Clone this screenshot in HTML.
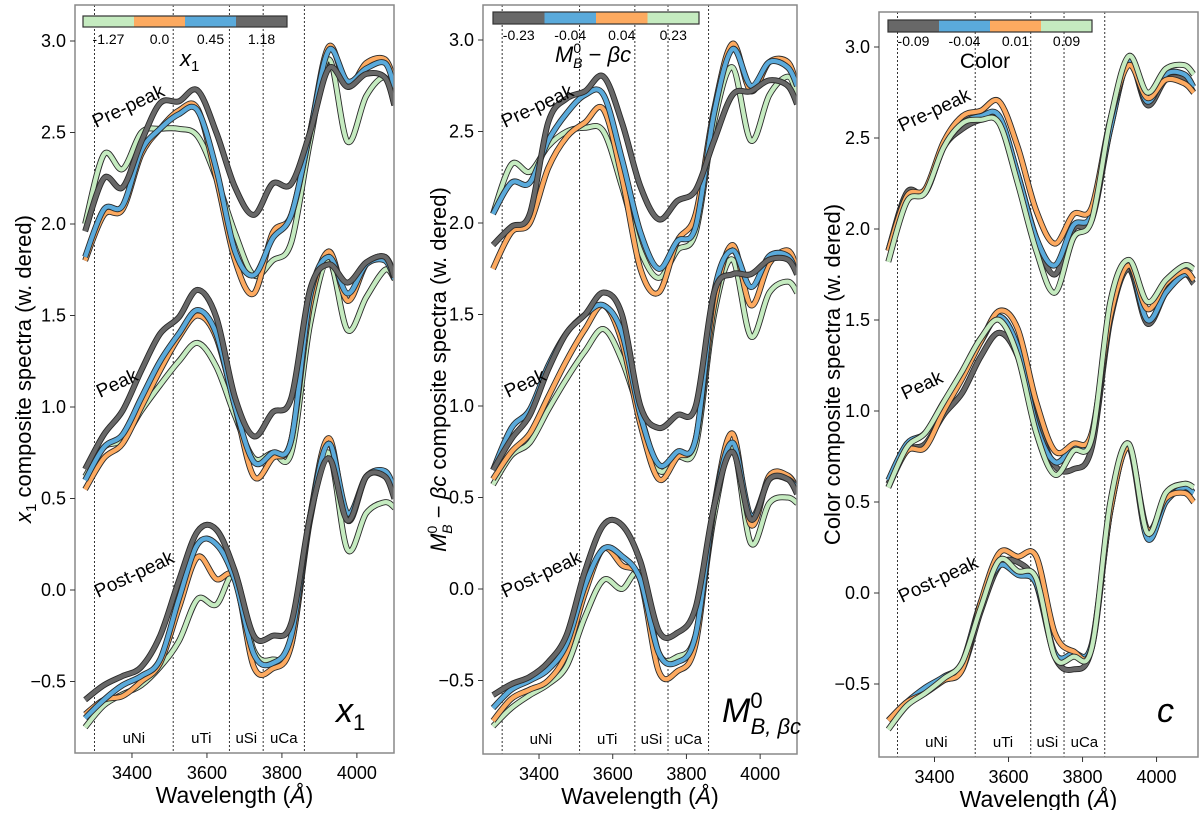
<!DOCTYPE html>
<html><head><meta charset="utf-8"><style>
body{margin:0;background:#fff;}
svg text{font-family:"Liberation Sans","DejaVu Sans",sans-serif;fill:#000;}
</style></head><body>
<svg id="fig" width="1200" height="810" viewBox="0 0 1200 810" xmlns="http://www.w3.org/2000/svg"></svg>
<script>
const wave=[3275,3325,3375,3425,3475,3525,3575,3625,3675,3725,3775,3825,3875,3925,3975,4025,4075,4100];
const xTicks=[3400,3600,3800,4000];
const yTicks=[-0.5,0.0,0.5,1.0,1.5,2.0,2.5,3.0];
const yTickLabels=["\u22120.5","0.0","0.5","1.0","1.5","2.0","2.5","3.0"];
const regionLines=[3300,3510,3660,3750,3860];
const regionNames=["uNi","uTi","uSi","uCa"];
const regionCenters=[3405,3585,3705,3805];
const epochNames=["Pre-peak","Peak","Post-peak"];
// panel 1: x1 (series order: green, orange, blue, grey)
const p1Pre=[[2.0,2.38,2.3,2.5,2.52,2.52,2.48,2.25,1.95,1.72,1.8,1.9,2.45,2.9,2.45,2.7,2.8,2.65],[1.8,2.05,2.08,2.38,2.52,2.62,2.63,2.25,1.8,1.62,1.95,2.05,2.5,2.97,2.75,2.88,2.9,2.78],[1.82,2.08,2.1,2.4,2.52,2.6,2.62,2.3,1.85,1.72,1.92,2.05,2.5,2.95,2.78,2.85,2.88,2.75],[1.96,2.25,2.2,2.45,2.66,2.67,2.73,2.5,2.2,2.05,2.22,2.22,2.5,2.85,2.75,2.82,2.8,2.65]];
const p1Peak=[[0.62,0.78,0.82,0.98,1.12,1.25,1.35,1.22,0.95,0.72,0.75,0.75,1.45,1.8,1.42,1.6,1.75,1.7],[0.55,0.72,0.8,1.0,1.2,1.38,1.5,1.38,1.0,0.62,0.72,0.82,1.55,1.85,1.58,1.78,1.82,1.72],[0.6,0.78,0.85,1.05,1.25,1.4,1.53,1.4,1.0,0.7,0.75,0.82,1.6,1.82,1.62,1.78,1.8,1.7],[0.66,0.85,0.98,1.2,1.4,1.49,1.64,1.49,1.05,0.84,0.97,1.05,1.64,1.78,1.68,1.79,1.82,1.71]];
const p1Post=[[-0.75,-0.63,-0.57,-0.52,-0.42,-0.28,-0.05,-0.08,0.08,-0.33,-0.38,-0.3,0.38,0.75,0.22,0.42,0.48,0.45],[-0.68,-0.6,-0.58,-0.5,-0.4,-0.1,0.18,0.06,0.06,-0.42,-0.43,-0.3,0.4,0.83,0.38,0.62,0.62,0.52],[-0.7,-0.6,-0.52,-0.47,-0.38,-0.05,0.25,0.25,0.05,-0.35,-0.4,-0.25,0.4,0.8,0.42,0.62,0.65,0.55],[-0.6,-0.52,-0.47,-0.42,-0.25,0.05,0.32,0.33,0.1,-0.25,-0.25,-0.18,0.4,0.72,0.38,0.62,0.62,0.5]];
// panel 2: M_B^0 - beta c (order: green, orange, blue, grey)
const p2Pre=[[2.05,2.32,2.28,2.42,2.5,2.52,2.5,2.2,1.85,1.7,1.85,1.95,2.55,2.85,2.45,2.7,2.8,2.7],[1.75,1.95,2.0,2.3,2.47,2.55,2.62,2.25,1.75,1.62,1.9,2.05,2.62,2.98,2.72,2.88,2.88,2.75],[2.05,2.22,2.22,2.45,2.6,2.7,2.7,2.35,1.95,1.75,1.9,1.98,2.6,2.95,2.75,2.88,2.85,2.75],[1.88,1.98,2.05,2.55,2.68,2.72,2.8,2.55,2.2,2.02,2.12,2.18,2.45,2.7,2.72,2.78,2.75,2.65]];
const p2Peak=[[0.57,0.73,0.8,0.98,1.15,1.3,1.42,1.25,0.95,0.65,0.72,0.78,1.5,1.8,1.38,1.62,1.68,1.62],[0.6,0.75,0.85,1.05,1.25,1.42,1.55,1.35,0.9,0.6,0.72,0.82,1.55,1.88,1.55,1.78,1.85,1.75],[0.65,0.88,0.98,1.22,1.4,1.5,1.55,1.4,0.95,0.68,0.75,0.82,1.62,1.85,1.65,1.82,1.82,1.72],[0.65,0.82,0.95,1.2,1.4,1.5,1.62,1.5,1.0,0.88,0.95,1.0,1.62,1.72,1.72,1.8,1.8,1.72]];
const p2Post=[[-0.75,-0.65,-0.58,-0.52,-0.42,-0.15,0.05,0.0,0.08,-0.35,-0.37,-0.25,0.4,0.78,0.25,0.47,0.5,0.47],[-0.72,-0.6,-0.55,-0.5,-0.35,-0.02,0.22,0.13,0.05,-0.45,-0.45,-0.3,0.45,0.85,0.35,0.62,0.62,0.55],[-0.65,-0.55,-0.5,-0.44,-0.3,0.02,0.22,0.18,0.05,-0.35,-0.4,-0.25,0.45,0.8,0.4,0.6,0.6,0.55],[-0.58,-0.52,-0.48,-0.4,-0.25,0.1,0.35,0.35,0.15,-0.23,-0.24,-0.1,0.45,0.75,0.38,0.6,0.6,0.52]];
// panel 3: colour (order: grey, blue, orange, green)
const p3Pre=[[1.88,2.2,2.2,2.45,2.55,2.6,2.6,2.3,1.95,1.75,2.0,2.05,2.55,2.92,2.68,2.82,2.82,2.75],[1.88,2.18,2.2,2.45,2.58,2.62,2.62,2.3,1.95,1.8,2.02,2.08,2.55,2.92,2.7,2.85,2.85,2.78],[1.88,2.18,2.22,2.48,2.62,2.65,2.7,2.45,2.1,1.92,2.08,2.12,2.6,2.9,2.72,2.82,2.8,2.75],[1.82,2.15,2.2,2.45,2.58,2.6,2.58,2.25,1.88,1.65,1.95,2.05,2.6,2.95,2.75,2.88,2.9,2.85]];
const p3Peak=[[0.6,0.78,0.82,0.98,1.1,1.3,1.43,1.3,0.95,0.7,0.68,0.8,1.5,1.78,1.48,1.65,1.75,1.7],[0.62,0.82,0.88,1.05,1.2,1.38,1.52,1.35,0.92,0.72,0.8,0.85,1.55,1.8,1.5,1.65,1.75,1.72],[0.58,0.78,0.8,1.0,1.18,1.38,1.55,1.45,1.05,0.78,0.82,0.88,1.52,1.8,1.56,1.7,1.77,1.72],[0.58,0.8,0.88,1.05,1.22,1.4,1.5,1.3,0.88,0.65,0.78,0.85,1.6,1.83,1.6,1.72,1.8,1.78]];
const p3Post=[[-0.7,-0.6,-0.53,-0.48,-0.42,-0.1,0.15,0.17,0.05,-0.35,-0.42,-0.3,0.45,0.8,0.33,0.52,0.58,0.55],[-0.7,-0.6,-0.52,-0.46,-0.38,-0.05,0.15,0.1,0.05,-0.33,-0.33,-0.28,0.45,0.8,0.3,0.5,0.58,0.55],[-0.7,-0.6,-0.55,-0.48,-0.42,-0.05,0.22,0.2,0.2,-0.22,-0.32,-0.3,0.45,0.8,0.35,0.52,0.55,0.5],[-0.75,-0.62,-0.55,-0.47,-0.38,-0.08,0.18,0.12,0.08,-0.35,-0.35,-0.3,0.5,0.82,0.33,0.55,0.6,0.58]];
const cbLabels1=["-1.27","0.0","0.45","1.18"];
const cbLabels2=["-0.23","-0.04","0.04","0.23"];
const cbLabels3=["-0.09","-0.04","0.01","0.09"];

const C={grey:"#686868",blue:"#5aaadb",orange:"#fdaa60",green:"#c5ebc0"};
const NS="http://www.w3.org/2000/svg";
const svg=document.getElementById('fig');
function el(tag,attrs,parent,txt){const e=document.createElementNS(NS,tag);for(const k in attrs)e.setAttribute(k,attrs[k]);if(txt!==undefined)e.textContent=txt;(parent||svg).appendChild(e);return e;}
function smooth(pts){let d="M"+pts[0][0].toFixed(1)+","+pts[0][1].toFixed(1);for(let i=0;i<pts.length-1;i++){const p0=pts[Math.max(0,i-1)],p1=pts[i],p2=pts[i+1],p3=pts[Math.min(pts.length-1,i+2)];const c1=[p1[0]+(p2[0]-p0[0])/6,p1[1]+(p2[1]-p0[1])/6],c2=[p2[0]-(p3[0]-p1[0])/6,p2[1]-(p3[1]-p1[1])/6];d+="C"+c1[0].toFixed(1)+","+c1[1].toFixed(1)+" "+c2[0].toFixed(1)+","+c2[1].toFixed(1)+" "+p2[0].toFixed(1)+","+p2[1].toFixed(1);}return d;}

const panels=[
 {id:"x1",L:75,R:394,T:5,B:753,x0:3248,x1:4099,y3:41,y0:590,series:[p1Pre,p1Peak,p1Post],colors:["green","orange","blue","grey"],
  cb:{x:83,y:16,w:204,h:11,order:["green","orange","blue","grey"],labels:cbLabels1,ly:44,tx:180,ty:66},
  ylab:"composite spectra (w. dered)",ylx:31,epochY:[[96,128],[100,398],[98,598]]},
 {id:"mb",L:483,R:797,T:5,B:754,x0:3248,x1:4100,y3:40,y0:589,series:[p2Pre,p2Peak,p2Post],colors:["green","orange","blue","grey"],
  cb:{x:493,y:12,w:206,h:12,order:["grey","blue","orange","green"],labels:cbLabels2,ly:40,tx:555,ty:62},
  ylab:"composite spectra (w. dered)",ylx:446,epochY:[[505,128],[508,398],[505,598]]},
 {id:"color",L:879,R:1198,T:12,B:757,x0:3250,x1:4112,y3:47,y0:593,series:[p3Pre,p3Peak,p3Post],colors:["grey","blue","orange","green"],
  cb:{x:888,y:20,w:204,h:12,order:["grey","blue","orange","green"],labels:cbLabels3,ly:46,tx:985,ty:68},
  ylab:"Color composite spectra (w. dered)",ylx:840,epochY:[[902,132],[905,400],[902,603]]}
];
panels.forEach((P,pi)=>{
 const g=el('g',{});
 
 
 const X=v=>P.L+(v-P.x0)/(P.x1-P.x0)*(P.R-P.L);
 const Y=v=>P.y0-(P.y0-P.y3)/3*v;
 const cp=el('clipPath',{id:'clip'+pi},g);el('rect',{x:P.L,y:P.T,width:P.R-P.L,height:P.B-P.T},cp);
 regionLines.forEach(w=>{const l=el('line',{x1:X(w),x2:X(w),y1:P.T,y2:P.B,stroke:"#333","stroke-width":1,"stroke-dasharray":"2,2"},g);});
 const lg=el('g',{'clip-path':'url(#clip'+pi+')'},g);
 P.series.forEach((ep,ei)=>{ep.forEach((vals,si)=>{
   const pts=wave.map((w,k)=>[X(w),Y(vals[k])]);const d=smooth(pts);
   const o=el('path',{d:d,fill:"none",stroke:"#2a2a2a","stroke-width":6,"stroke-linejoin":"round"},lg);
   
   const p=el('path',{d:d,fill:"none",stroke:C[P.colors[si]],"stroke-width":4.2,"stroke-linejoin":"round"},lg);
   
 });});
 const fr=el('rect',{x:P.L,y:P.T,width:P.R-P.L,height:P.B-P.T,fill:"none",stroke:"#888","stroke-width":1.5},g);
 
 xTicks.forEach(t=>{el('line',{x1:X(t),x2:X(t),y1:P.B,y2:P.B+5,stroke:"#333"},g);
  const tx=el('text',{x:X(t),y:P.B+26,"text-anchor":"middle","font-size":18},g,String(t));});
 yTicks.forEach((t,i)=>{el('line',{x1:P.L-5,x2:P.L,y1:Y(t),y2:Y(t),stroke:"#333"},g);
  const ty=el('text',{x:P.L-9,y:Y(t)+6,"text-anchor":"end","font-size":18},g,yTickLabels[i]);});
 regionNames.forEach((n,i)=>{const t=el('text',{x:X(regionCenters[i]),y:P.B-10,"text-anchor":"middle","font-size":15},g,n);});
 epochNames.forEach((n,i)=>{const [ex,ey]=P.epochY[i];const t=el('text',{x:ex,y:ey,"font-size":19,transform:`rotate(-25 ${ex} ${ey})`},g,n);});
 const xl=el('text',{x:(P.L+P.R)/2,y:P.B+50,"text-anchor":"middle","font-size":23},g,"Wavelength (");
 
 el('tspan',{"font-style":"italic"},xl,"Å");el('tspan',{},xl,")");
 const cb=P.cb;const seg=cb.w/4;
 cb.order.forEach((c,i)=>{const r=el('rect',{x:cb.x+i*seg,y:cb.y,width:seg,height:cb.h,fill:C[c]},g);});
 el('rect',{x:cb.x,y:cb.y,width:cb.w,height:cb.h,fill:"none",stroke:"#333","stroke-width":1.2},g);
 cb.labels.forEach((l,i)=>{const t=el('text',{x:cb.x+seg*(i+0.5),y:cb.ly,"text-anchor":"middle","font-size":14},g,l);});
 const yl=el('text',{transform:`translate(${P.ylx},${(P.T+P.B)/2-10}) rotate(-90)`,"text-anchor":"middle","font-size":22},g);
 
 let ct;
 if(pi===0){ el('tspan',{"font-style":"italic"},yl,"x");el('tspan',{"font-size":15,dy:5},yl,"1");el('tspan',{dy:-5},yl," "+P.ylab);
   ct=el('text',{x:cb.tx,y:cb.ty,"font-size":22,"font-style":"italic"},g,"x");el('tspan',{"font-size":15,dy:5,"font-style":"normal"},ct,"1");
   const c=el('text',{x:336,y:722,"font-size":34,"font-style":"italic"},g,"x");el('tspan',{"font-size":22,dy:8,"font-style":"normal"},c,"1");
 } else if(pi===1){ el('tspan',{"font-style":"italic"},yl,"M");el('tspan',{"font-size":14,dy:-9},yl,"0");el('tspan',{"font-size":14,dx:-8,dy:15,"font-style":"italic"},yl,"B");el('tspan',{dy:-6},yl," \u2212 ");el('tspan',{"font-style":"italic"},yl,"βc");el('tspan',{},yl," "+P.ylab);
   ct=el('text',{x:cb.tx,y:cb.ty,"font-size":22},g);el('tspan',{"font-style":"italic"},ct,"M");el('tspan',{"font-size":14,dy:-9},ct,"0");el('tspan',{"font-size":14,dx:-8,dy:15,"font-style":"italic"},ct,"B");el('tspan',{dy:-6},ct," \u2212 ");el('tspan',{"font-style":"italic"},ct,"βc");
   const c=el('text',{x:722,y:722,"font-size":34,"font-style":"italic"},g,"M");el('tspan',{"font-size":22,dy:-14,"font-style":"normal"},c,"0");el('tspan',{"font-size":22,dx:-12,dy:26},c,"B, βc");
 } else { yl.textContent=P.ylab;
   ct=el('text',{x:cb.tx,y:cb.ty,"font-size":21,"text-anchor":"middle"},g,"Color");
   const c=el('text',{x:1157,y:722,"font-size":34,"font-style":"italic"},g,"c");
 }
 
});
</script>
</body></html>
